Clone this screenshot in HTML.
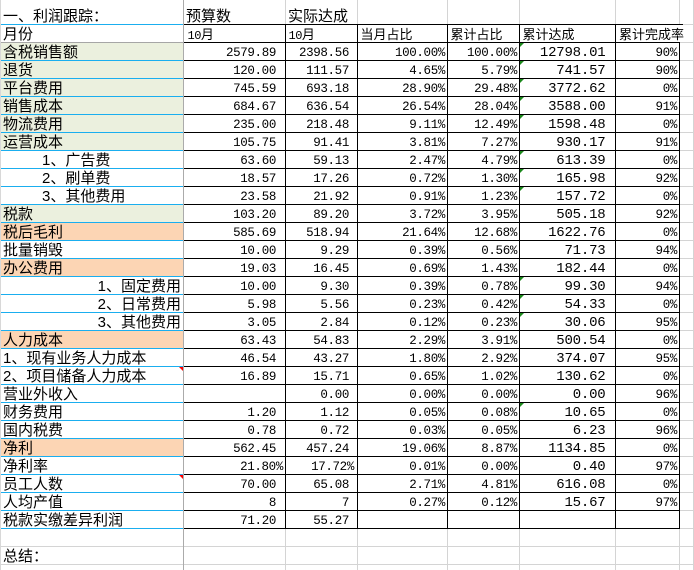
<!DOCTYPE html>
<html><head><meta charset="utf-8">
<style>
*{margin:0;padding:0;box-sizing:border-box}
body{width:694px;height:570px;position:relative;overflow:hidden;background:#fff;color:#000}
.bg{position:absolute;left:0;width:183px;height:18px}
.gr{background:#EBF0DE}
.pe{background:#FCD5B4}
.l{position:absolute}
.r{position:absolute;left:0;width:694px;height:18px}
.r>span{position:absolute;top:0;height:18px;white-space:nowrap}
i{font-style:normal}
.a{left:0;width:183px;padding-left:3px;font:15px/21px "Liberation Sans","Noto Sans CJK SC",sans-serif}
.in{padding-left:42px}
.ra{text-align:right;padding-left:0;padding-right:2px}
.h{font:13px/22px "Liberation Sans","Noto Sans CJK SC",sans-serif;padding-left:2.5px}
.mono{font-family:"Liberation Mono",monospace;letter-spacing:-0.5px;font-size:12px}
.n{font:12.5px/23px "Liberation Mono",monospace;letter-spacing:-0.35px;text-align:right}
.b{left:184px;width:92px}
.bp{left:184px;width:99px}
.c{left:286px;width:63px}
.cp{left:286px;width:68px}
.d{left:358px;width:87px}
.e{left:448px;width:69px}
.f{left:520px;width:85.5px;font-size:14px;letter-spacing:-0.2px}
.g{left:616px;width:61px}
.gt{position:absolute;left:520px;width:0;height:0;border-top:4px solid #1B8A1B;border-right:4px solid transparent}
.rt{position:absolute;left:179px;width:0;height:0;border-top:4px solid #f00;border-left:4px solid transparent}
</style></head>
<body>
<!-- column A backgrounds -->
<div class="bg gr" style="top:42px"></div>
<div class="bg gr" style="top:60px"></div>
<div class="bg gr" style="top:78px"></div>
<div class="bg gr" style="top:96px"></div>
<div class="bg gr" style="top:114px"></div>
<div class="bg gr" style="top:132px"></div>
<div class="bg gr" style="top:204px"></div>
<div class="bg pe" style="top:222px"></div>
<div class="bg pe" style="top:258px"></div>
<div class="bg pe" style="top:330px"></div>
<div class="bg pe" style="top:438px"></div>

<!-- text rows -->
<div class="r" style="top:6px"><span class="a">一、利润跟踪：</span><span class="a" style="left:184px;padding-left:2px">预算数</span><span class="a" style="left:286px;padding-left:2px">实际达成</span></div>
<div class="r" style="top:24px"><span class="a">月份</span><span class="h" style="left:184px;padding-left:3.5px"><i class="mono">10</i>月</span><span class="h" style="left:286px;padding-left:2.5px"><i class="mono">10</i>月</span><span class="h" style="left:358px">当月占比</span><span class="h" style="left:448px">累计占比</span><span class="h" style="left:520px">累计达成</span><span class="h" style="left:616px;padding-left:3px">累计完成率</span></div>

<div class="r" style="top:42px"><span class="a">含税销售额</span><span class="n b">2579.89</span><span class="n c">2398.56</span><span class="n d">100.00%</span><span class="n e">100.00%</span><span class="n f">12798.01</span><span class="n g">90%</span></div>
<div class="r" style="top:60px"><span class="a">退货</span><span class="n b">120.00</span><span class="n c">111.57</span><span class="n d">4.65%</span><span class="n e">5.79%</span><span class="n f">741.57</span><span class="n g">90%</span></div>
<div class="r" style="top:78px"><span class="a">平台费用</span><span class="n b">745.59</span><span class="n c">693.18</span><span class="n d">28.90%</span><span class="n e">29.48%</span><span class="n f">3772.62</span><span class="n g">0%</span></div>
<div class="r" style="top:96px"><span class="a">销售成本</span><span class="n b">684.67</span><span class="n c">636.54</span><span class="n d">26.54%</span><span class="n e">28.04%</span><span class="n f">3588.00</span><span class="n g">91%</span></div>
<div class="r" style="top:114px"><span class="a">物流费用</span><span class="n b">235.00</span><span class="n c">218.48</span><span class="n d">9.11%</span><span class="n e">12.49%</span><span class="n f">1598.48</span><span class="n g">0%</span></div>
<div class="r" style="top:132px"><span class="a">运营成本</span><span class="n b">105.75</span><span class="n c">91.41</span><span class="n d">3.81%</span><span class="n e">7.27%</span><span class="n f">930.17</span><span class="n g">91%</span></div>
<div class="r" style="top:150px"><span class="a in">1、广告费</span><span class="n b">63.60</span><span class="n c">59.13</span><span class="n d">2.47%</span><span class="n e">4.79%</span><span class="n f">613.39</span><span class="n g">0%</span></div>
<div class="r" style="top:168px"><span class="a in">2、刷单费</span><span class="n b">18.57</span><span class="n c">17.26</span><span class="n d">0.72%</span><span class="n e">1.30%</span><span class="n f">165.98</span><span class="n g">92%</span></div>
<div class="r" style="top:186px"><span class="a in">3、其他费用</span><span class="n b">23.58</span><span class="n c">21.92</span><span class="n d">0.91%</span><span class="n e">1.23%</span><span class="n f">157.72</span><span class="n g">0%</span></div>
<div class="r" style="top:204px"><span class="a">税款</span><span class="n b">103.20</span><span class="n c">89.20</span><span class="n d">3.72%</span><span class="n e">3.95%</span><span class="n f">505.18</span><span class="n g">92%</span></div>
<div class="r" style="top:222px"><span class="a">税后毛利</span><span class="n b">585.69</span><span class="n c">518.94</span><span class="n d">21.64%</span><span class="n e">12.68%</span><span class="n f">1622.76</span><span class="n g">0%</span></div>
<div class="r" style="top:240px"><span class="a">批量销毁</span><span class="n b">10.00</span><span class="n c">9.29</span><span class="n d">0.39%</span><span class="n e">0.56%</span><span class="n f">71.73</span><span class="n g">94%</span></div>
<div class="r" style="top:258px"><span class="a">办公费用</span><span class="n b">19.03</span><span class="n c">16.45</span><span class="n d">0.69%</span><span class="n e">1.43%</span><span class="n f">182.44</span><span class="n g">0%</span></div>
<div class="r" style="top:276px"><span class="a ra">1、固定费用</span><span class="n b">10.00</span><span class="n c">9.30</span><span class="n d">0.39%</span><span class="n e">0.78%</span><span class="n f">99.30</span><span class="n g">94%</span></div>
<div class="r" style="top:294px"><span class="a ra">2、日常费用</span><span class="n b">5.98</span><span class="n c">5.56</span><span class="n d">0.23%</span><span class="n e">0.42%</span><span class="n f">54.33</span><span class="n g">0%</span></div>
<div class="r" style="top:312px"><span class="a ra">3、其他费用</span><span class="n b">3.05</span><span class="n c">2.84</span><span class="n d">0.12%</span><span class="n e">0.23%</span><span class="n f">30.06</span><span class="n g">95%</span></div>
<div class="r" style="top:330px"><span class="a">人力成本</span><span class="n b">63.43</span><span class="n c">54.83</span><span class="n d">2.29%</span><span class="n e">3.91%</span><span class="n f">500.54</span><span class="n g">0%</span></div>
<div class="r" style="top:348px"><span class="a">1、现有业务人力成本</span><span class="n b">46.54</span><span class="n c">43.27</span><span class="n d">1.80%</span><span class="n e">2.92%</span><span class="n f">374.07</span><span class="n g">95%</span></div>
<div class="r" style="top:366px"><span class="a">2、项目储备人力成本</span><span class="n b">16.89</span><span class="n c">15.71</span><span class="n d">0.65%</span><span class="n e">1.02%</span><span class="n f">130.62</span><span class="n g">0%</span></div>
<div class="r" style="top:384px"><span class="a">营业外收入</span><span class="n c">0.00</span><span class="n d">0.00%</span><span class="n e">0.00%</span><span class="n f">0.00</span><span class="n g">96%</span></div>
<div class="r" style="top:402px"><span class="a">财务费用</span><span class="n b">1.20</span><span class="n c">1.12</span><span class="n d">0.05%</span><span class="n e">0.08%</span><span class="n f">10.65</span><span class="n g">0%</span></div>
<div class="r" style="top:420px"><span class="a">国内税费</span><span class="n b">0.78</span><span class="n c">0.72</span><span class="n d">0.03%</span><span class="n e">0.05%</span><span class="n f">6.23</span><span class="n g">96%</span></div>
<div class="r" style="top:438px"><span class="a">净利</span><span class="n b">562.45</span><span class="n c">457.24</span><span class="n d">19.06%</span><span class="n e">8.87%</span><span class="n f">1134.85</span><span class="n g">0%</span></div>
<div class="r" style="top:456px"><span class="a">净利率</span><span class="n bp">21.80%</span><span class="n cp">17.72%</span><span class="n d">0.01%</span><span class="n e">0.00%</span><span class="n f">0.40</span><span class="n g">97%</span></div>
<div class="r" style="top:474px"><span class="a">员工人数</span><span class="n b">70.00</span><span class="n c">65.08</span><span class="n d">2.71%</span><span class="n e">4.81%</span><span class="n f">616.08</span><span class="n g">0%</span></div>
<div class="r" style="top:492px"><span class="a">人均产值</span><span class="n b">8</span><span class="n c">7</span><span class="n d">0.27%</span><span class="n e">0.12%</span><span class="n f">15.67</span><span class="n g">97%</span></div>
<div class="r" style="top:510px"><span class="a">税款实缴差异利润</span><span class="n b">71.20</span><span class="n c">55.27</span></div>
<div class="r" style="top:546px"><span class="a">总结：</span></div>

<!-- grid lines -->
<div class="l" style="left:0;top:24px;width:183px;height:1px;background:#1AAEEF"></div>
<div class="l" style="left:0;top:42px;width:183px;height:1px;background:#A6A6A6"></div>
<div class="l" style="left:0;top:60px;width:183px;height:469px;background:repeating-linear-gradient(#1AAEEF 0 1px,transparent 1px 18px)"></div>
<div class="l" style="left:184px;top:24px;width:496px;height:505px;background:repeating-linear-gradient(#000 0 1px,transparent 1px 18px)"></div>
<div class="l" style="left:680px;top:24px;width:3px;height:1px;background:#000"></div>
<div class="l" style="left:683px;top:24px;width:11px;height:1px;background:#D4D4D4"></div>
<div class="l" style="left:680px;top:42px;width:14px;height:487px;background:repeating-linear-gradient(#D4D4D4 0 1px,transparent 1px 18px)"></div>
<div class="l" style="left:0;top:546px;width:694px;height:1px;background:#D4D4D4"></div>
<div class="l" style="left:0;top:564px;width:694px;height:1px;background:#D4D4D4"></div>

<div class="l" style="left:183px;top:0;width:1px;height:570px;background:#ABABAB"></div>
<div class="l" style="left:693px;top:0;width:1px;height:570px;background:#D4D4D4"></div>
<div class="l" style="left:0;top:0;width:1px;height:570px;background:#D8D8D8"></div>

<div class="l" style="left:285px;top:24px;width:1px;height:505px;background:#000"></div>
<div class="l" style="left:357px;top:24px;width:1px;height:505px;background:#000"></div>
<div class="l" style="left:447px;top:24px;width:1px;height:505px;background:#000"></div>
<div class="l" style="left:519px;top:24px;width:1px;height:505px;background:#000"></div>
<div class="l" style="left:615px;top:24px;width:1px;height:505px;background:#000"></div>
<div class="l" style="left:679px;top:42px;width:1px;height:487px;background:#000"></div>

<div class="l" style="left:285px;top:0;width:1px;height:24px;background:#D4D4D4"></div>
<div class="l" style="left:357px;top:0;width:1px;height:24px;background:#D4D4D4"></div>
<div class="l" style="left:447px;top:0;width:1px;height:24px;background:#D4D4D4"></div>
<div class="l" style="left:519px;top:0;width:1px;height:24px;background:#D4D4D4"></div>
<div class="l" style="left:615px;top:0;width:1px;height:24px;background:#D4D4D4"></div>
<div class="l" style="left:679px;top:0;width:1px;height:24px;background:#D4D4D4"></div>

<div class="l" style="left:285px;top:529px;width:1px;height:41px;background:#D4D4D4"></div>
<div class="l" style="left:357px;top:529px;width:1px;height:41px;background:#D4D4D4"></div>
<div class="l" style="left:447px;top:529px;width:1px;height:41px;background:#D4D4D4"></div>
<div class="l" style="left:519px;top:529px;width:1px;height:41px;background:#D4D4D4"></div>
<div class="l" style="left:615px;top:529px;width:1px;height:41px;background:#D4D4D4"></div>
<div class="l" style="left:679px;top:529px;width:1px;height:41px;background:#D4D4D4"></div>

<!-- comment / error indicators -->
<div class="gt" style="top:43px"></div>
<div class="gt" style="top:61px"></div>
<div class="gt" style="top:79px"></div>
<div class="gt" style="top:97px"></div>
<div class="gt" style="top:115px"></div>
<div class="gt" style="top:151px"></div>
<div class="gt" style="top:169px"></div>
<div class="gt" style="top:187px"></div>
<div class="gt" style="top:277px"></div>
<div class="gt" style="top:295px"></div>
<div class="gt" style="top:313px"></div>
<div class="gt" style="top:403px"></div>
<div class="rt" style="top:367px"></div>
<div class="rt" style="top:475px"></div>
</body></html>
